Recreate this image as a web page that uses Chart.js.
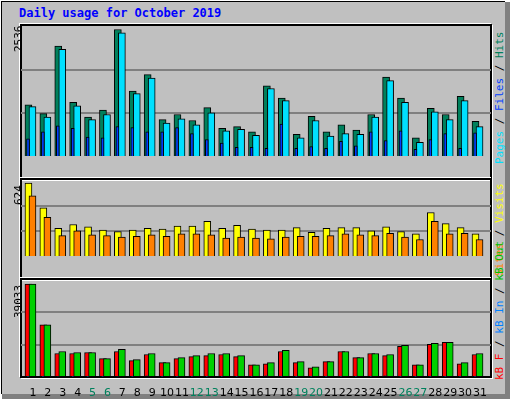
<!DOCTYPE html>
<html><head><meta charset="utf-8">
<script src="https://cdn.jsdelivr.net/npm/chart.js@4"></script>
<style>
html,body{margin:0;padding:0;}
body{width:512px;height:400px;position:relative;background:#fff;overflow:hidden;font-family:"DejaVu Sans Mono",monospace;}
#frame{position:absolute;left:1px;top:1px;width:503px;height:392px;background:#c0c0c0;border-top:1px solid #000;border-left:1px solid #000;box-shadow:3px 3px 0 2px #808080;}
canvas{position:absolute;}
.box{position:absolute;border:2px solid #000;box-sizing:border-box;box-shadow:-1px -1px 0 #fff, 1px 1px 0 #fff;}
.t{position:absolute;white-space:nowrap;}
.rot{transform-origin:0 0;transform:rotate(-90deg);font-size:11px;}
</style></head><body>
<div id="frame"></div>
<div class="t" style="left:19px;top:6px;color:#0000ff;font-weight:bold;font-size:12px;">Daily usage for October 2019</div>
<div class="box" style="left:20px;top:24px;width:472px;height:156px;"></div>
<div class="box" style="left:20px;top:178px;width:472px;height:102px;"></div>
<div class="box" style="left:20px;top:278px;width:472px;height:100px;"></div>
<canvas id="c1" style="left:21px;top:26px;width:470px;height:151px;"></canvas>
<canvas id="c2" style="left:21px;top:180px;width:470px;height:97px;"></canvas>
<canvas id="c3" style="left:21px;top:280px;width:470px;height:117px;"></canvas>
<div class="t rot" style="left:12px;top:52px;color:#000;">2536</div>
<div class="t rot" style="left:12px;top:205px;color:#000;">624</div>
<div class="t rot" style="left:12px;top:318px;color:#000;">39033</div>
<div class="t rot" style="left:493px;top:164px;"><span style="color:#00e0ff">Pages</span> / <span style="color:#0040ff">Files</span> / <span style="color:#00805c">Hits</span></div>
<div class="t rot" style="left:493px;top:276px;"><span style="color:#ff8000">Sites</span> / <span style="color:#ffff00">Visits</span></div>
<div class="t rot" style="left:493px;top:380px;"><span style="color:#ff0000">kB F</span> / <span style="color:#0080ff">kB In</span> / <span style="color:#00c000">kB Out</span></div>
<script>
const days=[1,2,3,4,5,6,7,8,9,10,11,12,13,14,15,16,17,18,19,20,21,22,23,24,25,26,27,28,29,30,31];
const weekends=[5,6,12,13,19,20,26,27];
const hits=[1035,863,2208,1087,794,932,2536,1311,1639,742,845,725,983,569,604,500,1415,1173,449,811,500,638,535,845,1587,1173,380,966,845,1208,707];
const files=[1001,794,2139,1018,742,845,2467,1259,1570,673,759,638,880,518,552,431,1363,1121,380,725,414,466,449,794,1518,1087,293,897,742,1121,604];
const pages=[362,500,621,569,397,380,604,587,500,500,587,466,345,276,190,190,173,656,173,207,173,311,224,500,328,518,155,345,466,173,483];
const visits=[624,416,242,275,255,228,215,228,242,235,262,262,302,242,268,235,228,228,248,208,242,248,248,221,255,215,195,376,282,248,195];
const sites=[517,336,181,221,188,181,168,174,188,174,195,195,188,161,168,161,154,168,174,174,181,195,188,181,201,168,148,302,195,201,148];
const kbOut=[39033,21879,10725,10296,10296,7722,11583,7293,9867,6006,8151,9009,9867,9867,9009,5148,6006,11154,6435,4290,6435,10725,8151,9867,9438,13299,5148,14157,14586,6006,9867];
const kbF=[39033,21879,9867,9867,10296,7722,10725,6864,9438,6006,7722,8580,9009,9438,8580,5148,5577,10725,6006,3861,6435,10725,8151,9867,9009,12870,5148,13728,14586,5577,9438];
const kbIn=[200,200,400,200,200,200,400,200,500,200,200,200,200,200,200,200,500,200,200,200,200,200,200,200,500,200,200,200,200,200,200];

function ds(vals,off,color,w,order){
  return {data:days.map((d,i)=>({x:d+off,y:vals[i]})),backgroundColor:color,borderColor:'#000',borderWidth:1,barThickness:w,order:order,grouped:false,borderSkipped:'bottom'};
}
function make(id,datasets,max,showX){
  new Chart(document.getElementById(id),{type:'bar',data:{datasets},
    options:{responsive:false,animation:false,devicePixelRatio:1,
      layout:{padding:0},
      plugins:{legend:{display:false},tooltip:{enabled:false}},
      scales:{
        x:{type:'linear',offset:false,min:0.2,max:31.74,display:showX,grid:{display:false},border:{display:false},
          afterBuildTicks:s=>{s.ticks=days.map(v=>({value:v}));},
          afterFit:s=>{s.height=20;},
          ticks:{autoSkip:false,maxRotation:0,padding:2,font:{family:'DejaVu Sans',size:11},
            color:c=>weekends.includes(c.tick.value)?'#00805c':'#000'}},
        y:{min:0,max:max,grid:{color:c=>(c.index===1||c.index===2)?'#808080':'rgba(0,0,0,0)',lineWidth:2,drawTicks:false},
          border:{display:false},ticks:{display:false},afterFit:s=>{s.width=0;},
          afterBuildTicks:s=>{s.ticks=[0,max/3,2*max/3,max].map(v=>({value:v}));}}
      }}});
}
function size(id){const c=document.getElementById(id);c.width=parseInt(c.style.width);c.height=parseInt(c.style.height);}
['c1','c2','c3'].forEach(size);
make('c1',[ds(hits,-0.3,'#00805c',7,2),ds(files,-0.03,'#00e0ff',7,1),ds(pages,-0.33,'#0040ff',3,0)],2605,false);
make('c2',[ds(visits,-0.3,'#ffff00',7,2),ds(sites,-0.03,'#ff8000',7,1)],651,false);
make('c3',[ds(kbF,-0.3,'#ff0000',7,2),ds(kbOut,-0.03,'#00d000',7,1),ds(kbIn,-0.33,'#0080ff',3,0)],40750,true);
</script>
</body></html>
